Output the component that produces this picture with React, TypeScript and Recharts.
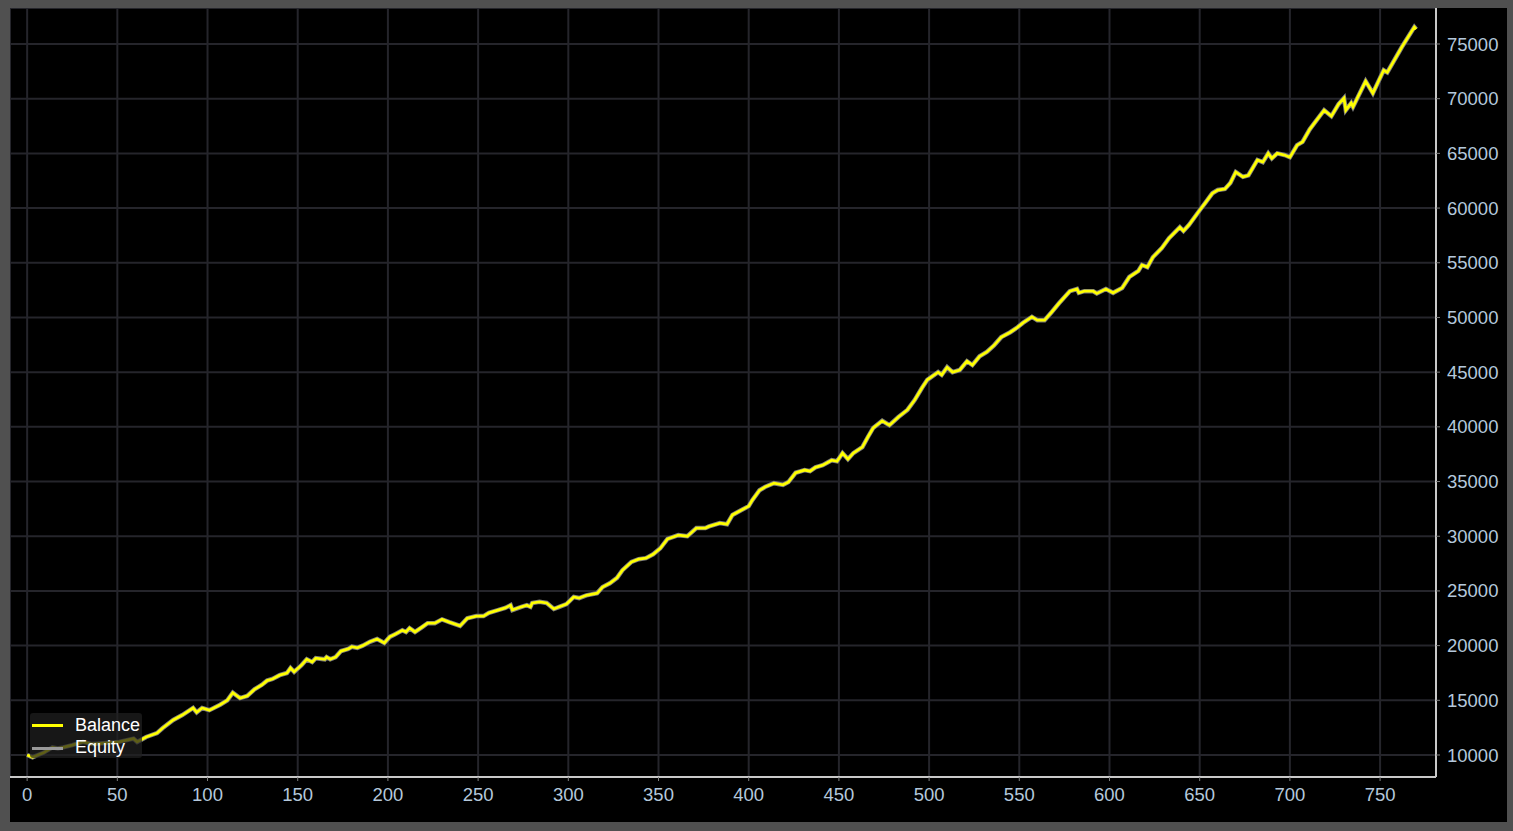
import { LineChart, Line, XAxis, YAxis, CartesianGrid } from "recharts";

const trades = [
  0, 3, 6, 9, 14, 17, 20, 25, 31, 36, 44, 51, 59, 61, 66, 72, 75, 81, 86, 92,
  94, 97, 101, 107, 111, 114, 118, 122, 126, 130, 133, 136, 140, 144, 146, 148, 152, 155, 158, 160,
  165, 166, 168, 171, 174, 178, 180, 183, 186, 190, 194, 198, 201, 204, 208, 210, 212, 215, 219, 222,
  226, 230, 234, 240, 244, 249, 253, 256, 261, 265, 268, 269, 274, 277, 279, 280, 284, 288, 292, 295,
  299, 303, 306, 310, 316, 319, 323, 327, 330, 335, 339, 343, 347, 351, 355, 361, 366, 371, 376, 378,
  384, 388, 391, 396, 400, 402, 406, 409, 414, 419, 422, 426, 431, 434, 437, 441, 446, 449, 452, 455,
  458, 463, 466, 469, 474, 478, 483, 488, 492, 496, 499, 505, 507, 510, 513, 517, 521, 524, 528, 532,
  536, 540, 545, 549, 552, 557, 560, 564, 568, 572, 578, 582, 583, 586, 591, 593, 598, 602, 607, 611,
  616, 618, 621, 624, 629, 633, 639, 641, 644, 650, 653, 657, 660, 664, 667, 670, 674, 677, 682, 685,
  688, 690, 693, 697, 700, 704, 707, 711, 714, 719, 723, 727, 730, 731, 734, 735, 742, 746, 752, 754,
  762, 769, 770,
];

const balance = [
  10000, 9800, 10000, 10200, 10700, 10600, 10700, 10900, 11200, 11000, 11100, 11200, 11500, 11200, 11650, 12000, 12450, 13200, 13650, 14300,
  13900, 14300, 14100, 14600, 15000, 15700, 15200, 15400, 16000, 16400, 16800, 16950, 17300, 17500, 17950, 17600, 18200, 18750, 18500, 18850,
  18750, 18950, 18750, 18950, 19500, 19700, 19900, 19800, 20000, 20350, 20600, 20250, 20800, 21050, 21400, 21250, 21600, 21250, 21700, 22050,
  22050, 22400, 22150, 21800, 22500, 22700, 22700, 23000, 23250, 23450, 23700, 23250, 23550, 23700, 23550, 23900, 24000, 23900, 23350, 23550,
  23800, 24450, 24350, 24600, 24800, 25350, 25700, 26200, 26900, 27650, 27900, 28000, 28350, 28900, 29750, 30100, 30000, 30750, 30750, 30900,
  31200, 31100, 31950, 32400, 32750, 33300, 34200, 34500, 34850, 34700, 34950, 35800, 36050, 35950, 36300, 36500, 36950, 36850, 37600, 37050,
  37600, 38150, 39050, 39900, 40550, 40150, 40900, 41550, 42450, 43550, 44300, 45000, 44750, 45450, 45000, 45200, 46000, 45650, 46450, 46850,
  47450, 48200, 48650, 49100, 49500, 50050, 49750, 49750, 50500, 51300, 52400, 52600, 52250, 52400, 52400, 52200, 52600, 52250, 52700, 53700,
  54250, 54800, 54600, 55500, 56350, 57250, 58250, 57900, 58450, 59800, 60450, 61350, 61650, 61750, 62300, 63300, 62850, 63000, 64400, 64200,
  65000, 64550, 65000, 64850, 64650, 65750, 66050, 67200, 67850, 68950, 68400, 69500, 70050, 68950, 69600, 69250, 71600, 70500, 72600, 72400,
  74700, 76550, 76350,
];

// equity sits right on top of balance in the picture
const equity = balance;

const xTicks = [0, 50, 100, 150, 200, 250, 300, 350, 400, 450, 500, 550, 600, 650, 700, 750];
const yTicks = [10000, 15000, 20000, 25000, 30000, 35000, 40000, 45000, 50000, 55000, 60000, 65000, 70000, 75000];

const data = trades.map((t, i) => ({ trade: t, balance: balance[i], equity: equity[i] }));

const font = "'Liberation Sans', Arial, sans-serif";
const tickStyle = { fill: "#b4c8dc", fontSize: 18.5, fontFamily: font };

export default function App() {
  return (
    <div style={{ position: "absolute", left: 0, top: 0, width: 1513, height: 831, background: "#505050" }}>
      <div style={{ position: "absolute", left: 10, top: 8, width: 1497, height: 814, background: "#000" }}>
        <LineChart width={1497} height={814} data={data} margin={{ top: 0, right: 0, bottom: 0, left: 0 }}>
          <CartesianGrid stroke="#25252b" strokeWidth={2} />
          <XAxis
            dataKey="trade"
            type="number"
            domain={[-9.5, 781]}
            ticks={xTicks}
            allowDataOverflow
            height={45}
            tick={tickStyle}
            tickSize={4}
            tickMargin={7}
            axisLine={{ stroke: "#c8c8c8", strokeWidth: 2 }}
            tickLine={{ stroke: "#808080" }}
          />
          <YAxis
            orientation="right"
            type="number"
            domain={[7990, 78290]}
            ticks={yTicks}
            allowDataOverflow
            width={71}
            tick={tickStyle}
            tickSize={4}
            tickMargin={7}
            axisLine={{ stroke: "#c8c8c8", strokeWidth: 2 }}
            tickLine={{ stroke: "#808080" }}
          />
          <Line dataKey="equity" type="linear" stroke="#7c7c7c" strokeWidth={4.5} dot={false} isAnimationActive={false} />
          <Line dataKey="balance" type="linear" stroke="#ffff00" strokeWidth={2.8} dot={false} isAnimationActive={false} />
        </LineChart>

        {/* legend box, bottom-left over the plot */}
        <div
          style={{
            position: "absolute", left: 20, top: 705, width: 112, height: 45,
            background: "rgba(32,32,32,0.72)", borderRadius: 3,
            fontFamily: font, fontSize: 18, color: "#fff",
          }}
        >
          <div style={{ position: "absolute", left: 2, top: 11, width: 31, height: 3, background: "#ffff00" }} />
          <div style={{ position: "absolute", left: 45, top: 1, lineHeight: "22px" }}>Balance</div>
          <div style={{ position: "absolute", left: 2, top: 34, width: 31, height: 3, background: "#9a9a9a" }} />
          <div style={{ position: "absolute", left: 45, top: 23, lineHeight: "22px" }}>Equity</div>
        </div>
      </div>
    </div>
  );
}
